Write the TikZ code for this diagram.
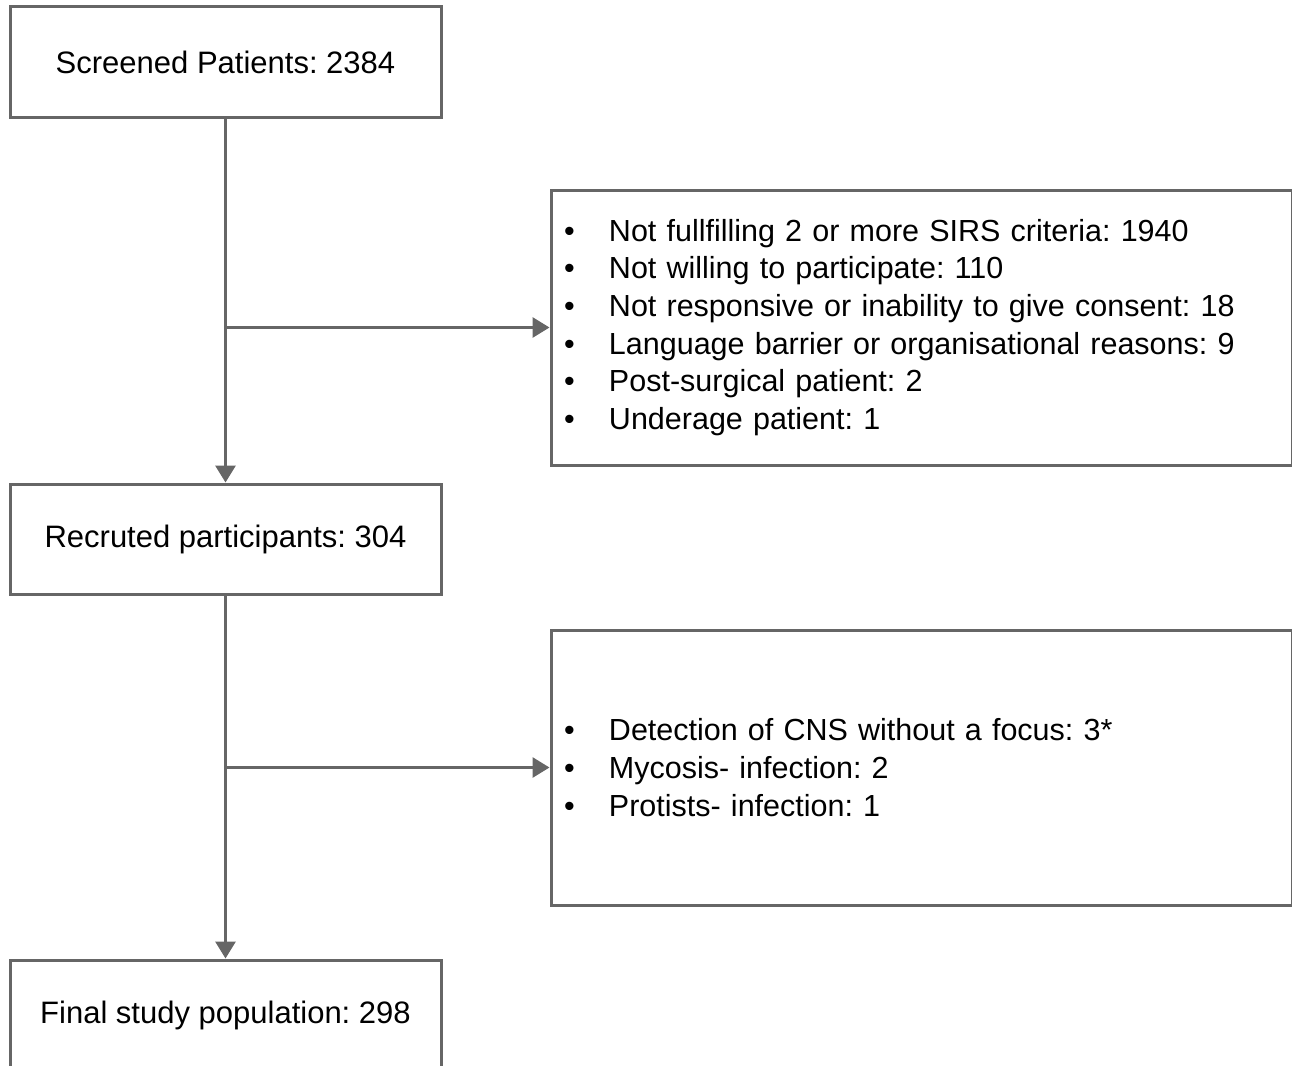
\documentclass[tikz,border=0pt]{standalone}
\usepackage{fontspec}
\setmainfont{Liberation Sans}
\usepackage{tikz}
\usetikzlibrary{arrows.meta}
\definecolor{linegray}{RGB}{102,102,102}
\newcommand{\bitem}[1]{\makebox[45pt][l]{\textbullet}#1}
\frenchspacing

\begin{document}
\begin{tikzpicture}[x=1pt,y=1pt,yscale=-1,xscale=1,
  stagebox/.style={draw=linegray,line width=3pt,minimum width=431pt,minimum height=110pt,inner sep=0pt,font=\fontsize{31}{37.6}\selectfont},
  exclbox/.style={draw=linegray,line width=3pt,minimum width=741pt,minimum height=275pt,text width=715pt,inner xsep=13pt,inner ysep=0pt,align=left,font=\fontsize{30.5}{37.6}\selectfont},
  flow/.style={draw=linegray,line width=3pt,-{Triangle[length=17pt,width=20pt]}}]
\useasboundingbox (0,0) rectangle (1292,1065);
\fill[white] (0,0) rectangle (1292,1065);

\node[stagebox] (screen) at (225.5,62) {Screened Patients: 2384};
\node[stagebox] (recruit) at (225.5,539) {Recruted participants: 304};
\node[stagebox] (final) at (225.5,1015) {Final study population: 298};

\node[exclbox] (excl1) at (921.5,327.5) {\bitem{Not fullfilling 2 or more SIRS criteria: 1940}\\
\bitem{Not willing to participate: 110}\\
\bitem{Not responsive or inability to give consent: 18}\\
\bitem{Language barrier or organisational reasons: 9}\\
\bitem{Post-surgical patient: 2}\\
\bitem{Underage patient: 1}};
\node[exclbox] (excl2) at (921.5,767.5) {\bitem{Detection of CNS without a focus: 3*}\\
\bitem{Mycosis- infection: 2}\\
\bitem{Protists- infection: 1}};

\coordinate (b1) at (225.5,327.5);
\coordinate (b2) at (225.5,767.5);

\draw[flow] (screen) -- (recruit);
\draw[flow] (recruit) -- (final);
\draw[flow] (b1) -- (excl1);
\draw[flow] (b2) -- (excl2);
\end{tikzpicture}
\end{document}
